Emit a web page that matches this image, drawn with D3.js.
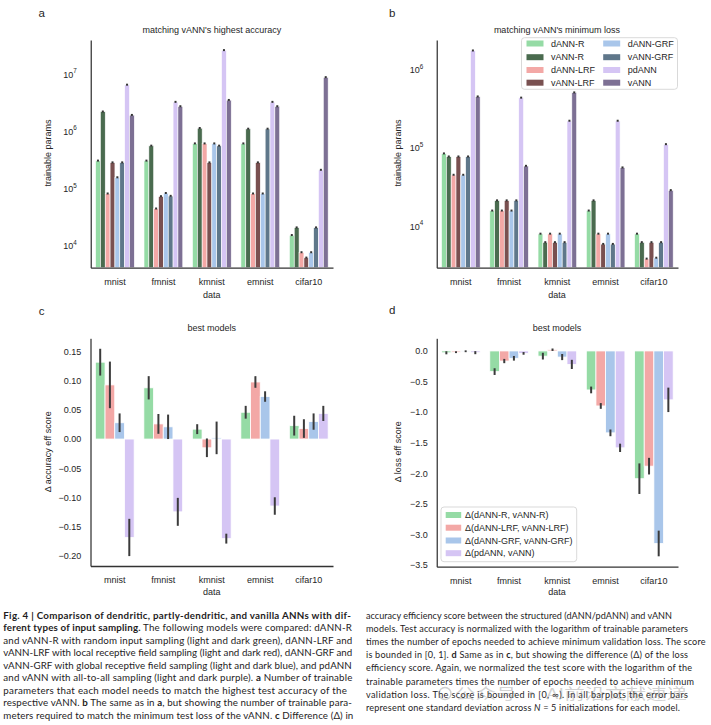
<!DOCTYPE html>
<html><head><meta charset="utf-8">
<script src="https://cdn.jsdelivr.net/npm/d3@7"></script>
<style>
body{margin:0;background:#fff}
svg{display:block}
</style>
</head><body>
<svg id="chart" width="711" height="725"></svg>
<script>
// ---------------- DATA ----------------
const categories = ["mnist","fmnist","kmnist","emnist","cifar10"];
const models = ["dANN-R","vANN-R","dANN-LRF","vANN-LRF","dANN-GRF","vANN-GRF","pdANN","vANN"];
const modelColors = ["#95dba5","#4a6b4f","#f3a8a6","#795050","#a9c6ea","#5f778a","#d5c5f4","#7d7094"];

// a: trainable params to match vANN's highest accuracy (order = models)
const accParamsMnist   = [2.9e5, 2.1e6, 7.7e4, 2.7e5, 1.48e5, 2.7e5, 6.2e6, 1.83e6];
const accParamsFmnist  = [2.9e5, 5.3e5, 4.2e4, 6.9e4, 7.85e4, 7.0e4, 3.1e6, 2.6e6];
const accParamsKmnist  = [5.8e5, 1.08e6, 5.8e5, 2.7e5, 5.8e5, 5.3e5, 2.5e7, 3.35e6];
const accParamsEmnist  = [5.8e5, 1.05e6, 7.7e4, 2.7e5, 7.7e4, 1.05e6, 3.1e6, 2.6e6];
const accParamsCifar10 = [1.44e4, 1.96e4, 7.2e3, 5.8e3, 7.2e3, 1.96e4, 2.0e5, 8.4e6];

// b: trainable params to match vANN's minimum loss
const lossParamsMnist   = [8.15e4, 7.45e4, 4.35e4, 7.45e4, 4.35e4, 7.45e4, 1.68e6, 4.35e5];
const lossParamsFmnist  = [1.52e4, 2.05e4, 1.52e4, 2.05e4, 1.52e4, 2.05e4, 4.2e5, 5.66e4];
const lossParamsKmnist  = [7.7e3, 6.0e3, 7.7e3, 6.0e3, 7.7e3, 6.0e3, 2.13e5, 4.9e5];
const lossParamsEmnist  = [1.52e4, 2.05e4, 7.7e3, 5.7e3, 7.7e3, 5.7e3, 2.13e5, 5.4e4];
const lossParamsCifar10 = [7.7e3, 6.0e3, 3.7e3, 6.0e3, 3.8e3, 6.0e3, 1.07e5, 2.77e4];

const logTicksA = [1e4, 1e5, 1e6, 1e7];
const logTicksB = [1e4, 1e5, 1e6];

// c / d : differences (order = categories)
const deltaLabels = ["Δ(dANN-R, vANN-R)","Δ(dANN-LRF, vANN-LRF)","Δ(dANN-GRF, vANN-GRF)","Δ(pdANN, vANN)"];
const deltaColors = ["#95dba5","#f3a8a6","#a9c6ea","#d5c5f4"];

const accDeltaR   = [0.132, 0.088, 0.017, 0.046, 0.023];
const accDeltaLRF = [0.093, 0.026, -0.015, 0.098, 0.018];
const accDeltaGRF = [0.028, 0.021, 0.002, 0.073, 0.030];
const accDeltaPd  = [-0.169, -0.125, -0.171, -0.115, 0.044];
const accSdR   = [0.023, 0.020, 0.0085, 0.011, 0.017];
const accSdLRF = [0.040, 0.017, 0.016, 0.010, 0.016];
const accSdGRF = [0.016, 0.021, 0.028, 0.009, 0.014];
const accSdPd  = [0.032, 0.024, 0.0085, 0.015, 0.013];

const lossDeltaR   = [-0.03, -0.338, -0.085, -0.638, -2.09];
const lossDeltaLRF = [-0.02, -0.165, 0.02, -0.90, -1.885];
const lossDeltaGRF = [-0.005, -0.12, -0.10, -1.34, -3.15];
const lossDeltaPd  = [-0.028, -0.04, -0.22, -1.585, -0.80];
const lossSdR   = [0.025, 0.055, 0.055, 0.055, 0.25];
const lossSdLRF = [0.015, 0.035, 0.02, 0.047, 0.136];
const lossSdGRF = [0.015, 0.038, 0.05, 0.055, 0.21];
const lossSdPd  = [0.025, 0.022, 0.075, 0.068, 0.20];

const accTicks  = [0.15, 0.10, 0.05, 0.00, -0.05, -0.10, -0.15, -0.20];
const lossTicks = [0.0, -0.5, -1.0, -1.5, -2.0, -2.5, -3.0, -3.5];

// ---------------- DRAW ----------------
const svg = d3.select("#chart");
const FONT = "'Liberation Sans', Arial, sans-serif";
const TXT = "#262626";

function label(x, y, s, opts = {}) {
  const t = svg.append("text").attr("x", x).attr("y", y).text(s)
    .attr("font-family", FONT).attr("font-size", opts.size || 9)
    .attr("fill", TXT).attr("text-anchor", opts.anchor || "middle")
    .attr("dominant-baseline", "central");
  if (opts.rotate) t.attr("transform", `rotate(-90,${x},${y})`);
  return t;
}

function styleAxis(g, domainColor, domainWidth) {
  g.attr("font-family", FONT).attr("font-size", 9);
  g.select(".domain").attr("stroke", domainColor).attr("stroke-width", domainWidth);
  g.selectAll(".tick text").attr("fill", TXT);
}

function logPanel(cfg) {
  const g = svg.append("g");
  const x = d3.scaleBand().domain(categories).range([cfg.x0, cfg.x1]);
  const xi = d3.scaleBand().domain(models).range([0, x.bandwidth() * 0.8]);
  const y = d3.scaleLog().domain(cfg.yDomain).range([cfg.y1, cfg.y0]);
  categories.forEach((c, ci) => {
    const vals = cfg.data[ci];
    models.forEach((m, mi) => {
      const bx = x(c) + x.bandwidth() * 0.1 + xi(m);
      const v = vals[mi];
      g.append("rect").attr("x", bx).attr("y", y(v))
        .attr("width", xi.bandwidth()).attr("height", cfg.y1 - y(v))
        .attr("fill", modelColors[mi]).attr("stroke", "#fff").attr("stroke-width", 0.6);
      g.append("rect").attr("x", bx + xi.bandwidth() / 2 - 1).attr("y", y(v) - 1.2)
        .attr("width", 2).attr("height", 2).attr("fill", "#333");
    });
  });
  const ya = g.append("g").attr("transform", `translate(${cfg.x0},0)`)
    .call(d3.axisLeft(y).tickValues(cfg.ticks).tickSize(0).tickSizeOuter(0)
      .tickPadding(cfg.pad).tickFormat(() => ""));
  styleAxis(ya, "#000", 1);
  ya.selectAll(".tick text").each(function (d) {
    const t = d3.select(this);
    t.text(null).attr("dy", "0.45em");
    t.append("tspan").text("10");
    t.append("tspan").attr("font-size", 6.3).attr("dy", -4.2).text(Math.round(Math.log10(d)));
  });
  const xa = g.append("g").attr("transform", `translate(0,${cfg.y1})`)
    .call(d3.axisBottom(x).tickSize(0).tickSizeOuter(0).tickPadding(11));
  styleAxis(xa, "#333", 1.3);
}

function deltaPanel(cfg) {
  const g = svg.append("g");
  const x = d3.scaleBand().domain(categories).range([cfg.x0, cfg.x1]);
  const xi = d3.scaleBand().domain(deltaLabels).range([0, x.bandwidth() * 0.8]);
  const y = d3.scaleLinear().domain(cfg.yDomain).range([cfg.y1, cfg.y0]);
  cfg.series.forEach((vals, si) => {
    categories.forEach((c, ci) => {
      const v = vals[ci];
      const bx = x(c) + x.bandwidth() * 0.1 + xi(deltaLabels[si]);
      g.append("rect").attr("x", bx).attr("y", Math.min(y(v), y(0)))
        .attr("width", xi.bandwidth()).attr("height", Math.abs(y(v) - y(0)))
        .attr("fill", deltaColors[si]).attr("stroke", "#fff").attr("stroke-width", 0.8);
    });
  });
  cfg.series.forEach((vals, si) => {
    const sds = cfg.sds[si];
    categories.forEach((c, ci) => {
      const v = vals[ci], s = sds[ci];
      const cx = x(c) + x.bandwidth() * 0.1 + xi(deltaLabels[si]) + xi.bandwidth() / 2;
      g.append("line").attr("x1", cx).attr("x2", cx)
        .attr("y1", y(v - s)).attr("y2", y(v + s))
        .attr("stroke", "#3b3b3b").attr("stroke-width", 2);
    });
  });
  const ya = g.append("g").attr("transform", `translate(${cfg.x0},0)`)
    .call(d3.axisLeft(y).tickValues(cfg.ticks).tickSize(0).tickSizeOuter(0)
      .tickPadding(cfg.pad).tickFormat(d3.format(cfg.fmt)));
  styleAxis(ya, "#000", 1);
  const xa = g.append("g").attr("transform", `translate(0,${cfg.y1})`)
    .call(d3.axisBottom(x).tickSize(0).tickSizeOuter(0).tickPadding(11));
  styleAxis(xa, "#333", 1.3);
}

// Panel a
logPanel({x0: 90.7, x1: 333, y0: 40, y1: 267.7, yDomain: [3890, 3.79e7], ticks: logTicksA, pad: 14,
  data: [accParamsMnist, accParamsFmnist, accParamsKmnist, accParamsEmnist, accParamsCifar10]});
label(211.8, 30, "matching vANN's highest accuracy");
label(48, 153, "trainable params", {rotate: true});
label(211.8, 295, "data");
label(41.7, 12.7, "a", {size: 11.5});

// Panel b
logPanel({x0: 436.7, x1: 678, y0: 40, y1: 267.7, yDomain: [2850, 2.3e6], ticks: logTicksB, pad: 13.4,
  data: [lossParamsMnist, lossParamsFmnist, lossParamsKmnist, lossParamsEmnist, lossParamsCifar10]});
label(557, 30, "matching vANN's minimum loss");
label(397.7, 153, "trainable params", {rotate: true});
label(557, 295, "data");
label(392.3, 12.7, "b", {size: 11.5});

// legend b
(function () {
  const g = svg.append("g");
  g.append("rect").attr("x", 521.5).attr("y", 37.7).attr("width", 156).attr("height", 51.6)
    .attr("rx", 3).attr("fill", "#fff").attr("fill-opacity", 0.85).attr("stroke", "#cfcfcf").attr("stroke-width", 0.8);
  const rows = [43.5, 57.2, 70, 82.7];
  models.forEach((m, i) => {
    const col = Math.floor(i / 4), r = i % 4;
    const px = col === 0 ? 526.5 : 603.2;
    g.append("rect").attr("x", px).attr("y", rows[r] - 3).attr("width", 17).attr("height", 6)
      .attr("fill", modelColors[i]);
    label(px + 24.5, rows[r], m, {anchor: "start"});
  });
})();

// Panel c
deltaPanel({x0: 90.5, x1: 333, y0: 338.3, y1: 566, yDomain: [-0.218, 0.173], ticks: accTicks, pad: 9.3, fmt: ".2f",
  series: [accDeltaR, accDeltaLRF, accDeltaGRF, accDeltaPd], sds: [accSdR, accSdLRF, accSdGRF, accSdPd]});
label(211.8, 328.3, "best models");
label(48.3, 451.7, "Δ accuracy eff score", {rotate: true});
label(211.8, 591.7, "data");
label(41.7, 311, "c", {size: 11.5});

// Panel d
deltaPanel({x0: 436.7, x1: 678, y0: 338.3, y1: 566.7, yDomain: [-3.53, 0.207], ticks: lossTicks, pad: 9, fmt: ".1f",
  series: [lossDeltaR, lossDeltaLRF, lossDeltaGRF, lossDeltaPd], sds: [lossSdR, lossSdLRF, lossSdGRF, lossSdPd]});
label(557, 328.3, "best models");
label(398.3, 451.7, "Δ loss eff score", {rotate: true});
label(557, 591.7, "data");
label(392.3, 310, "d", {size: 11.5});

// legend d
(function () {
  const g = svg.append("g");
  g.append("rect").attr("x", 441).attr("y", 507).attr("width", 135.7).attr("height", 54.7)
    .attr("rx", 3).attr("fill", "#fff").attr("fill-opacity", 0.85).attr("stroke", "#cfcfcf").attr("stroke-width", 0.8);
  const rows = [515, 527.7, 540.5, 553.2];
  deltaLabels.forEach((m, i) => {
    g.append("rect").attr("x", 445.7).attr("y", rows[i] - 3).attr("width", 15.5).attr("height", 6)
      .attr("fill", deltaColors[i]);
    label(465, rows[i], m, {anchor: "start"});
  });
})();

// ---------------- CAPTION ----------------
const captionLeft = [
  [["Fig. 4 | Comparison of dendritic, partly-dendritic, and vanilla ANNs with dif-", "b"]],
  [["ferent types of input sampling.", "b"], [" The following models were compared: dANN-R", ""]],
  [["and vANN-R with random input sampling (light and dark green), dANN-LRF and", ""]],
  [["vANN-LRF with local receptive field sampling (light and dark red), dANN-GRF and", ""]],
  [["vANN-GRF with global receptive field sampling (light and dark blue), and pdANN", ""]],
  [["and vANN with all-to-all sampling (light and dark purple). ", ""], ["a", "b"], [" Number of trainable", ""]],
  [["parameters that each model needs to match the highest test accuracy of the", ""]],
  [["respective vANN. ", ""], ["b", "b"], [" The same as in ", ""], ["a", "b"], [", but showing the number of trainable para-", ""]],
  [["meters required to match the minimum test loss of the vANN. ", ""], ["c", "b"], [" Difference (Δ) in", ""]]
];
const captionLeftWidths = [347.5, 348.5, 349, 349, 348.5, 349, 343.5, 348.5, 350];
const captionRight = [
  [["accuracy efficiency score between the structured (dANN/pdANN) and vANN", ""]],
  [["models. Test accuracy is normalized with the logarithm of trainable parameters", ""]],
  [["times the number of epochs needed to achieve minimum validation loss. The score", ""]],
  [["is bounded in [0, 1]. ", ""], ["d", "b"], [" Same as in ", ""], ["c", "b"], [", but showing the difference (Δ) of the loss", ""]],
  [["efficiency score. Again, we normalized the test score with the logarithm of the", ""]],
  [["trainable parameters times the number of epochs needed to achieve minimum", ""]],
  [["validation loss. The score is bounded in [0, ∞). In all barplots the error bars", ""]],
  [["represent one standard deviation across ", ""], ["N", "i"], [" = 5 initializations for each model.", ""]]
];
const captionRightWidths = [306, 322, 339.5, 322, 326, 328, 322, 314];

function caption(lines, widths, x0, y0, dy) {
  const base = 10.4;
  const texts = lines.map((segs, i) => {
    const t = svg.append("text").attr("x", x0).attr("y", y0 + i * dy)
      .attr("font-family", "Lato, 'Open Sans', sans-serif").attr("font-size", base)
      .attr("fill", "#1e1c1d").style("white-space", "pre");
    segs.forEach(([s, st]) => {
      const ts = t.append("tspan").text(s);
      if (st === "b") ts.attr("font-weight", "bold");
      if (st === "i") ts.attr("font-style", "italic");
    });
    return t;
  });
  // uniform font size so that no line is naturally wider than its slot
  let ratio = 1;
  texts.forEach((t, i) => {
    const w = t.node().getComputedTextLength();
    ratio = Math.min(ratio, widths[i] / w);
  });
  const fs = base * ratio * 0.995;
  texts.forEach((t, i) => {
    t.attr("font-size", fs);
    const w = t.node().getComputedTextLength();
    if (w < widths[i]) t.attr("textLength", widths[i]).attr("lengthAdjust", "spacing");
  });
}
caption(captionLeft, captionLeftWidths, 3.3, 618.5, 12.5);
caption(captionRight, captionRightWidths, 366, 618.5, 13.2);

// watermark overlay
svg.append("text").attr("x", 455).attr("y", 699).text("公众号 · AI前沿文献速递")
  .attr("font-family", "'Noto Sans CJK SC', sans-serif").attr("font-size", 15)
  .attr("fill", "#8a8a8a").attr("fill-opacity", 0.4)
  .attr("textLength", 232).attr("lengthAdjust", "spacingAndGlyphs");
svg.append("circle").attr("cx", 445).attr("cy", 693.5).attr("r", 6)
  .attr("fill", "none").attr("stroke", "#8a8a8a").attr("stroke-opacity", 0.4).attr("stroke-width", 1.5);
</script>
</body></html>
